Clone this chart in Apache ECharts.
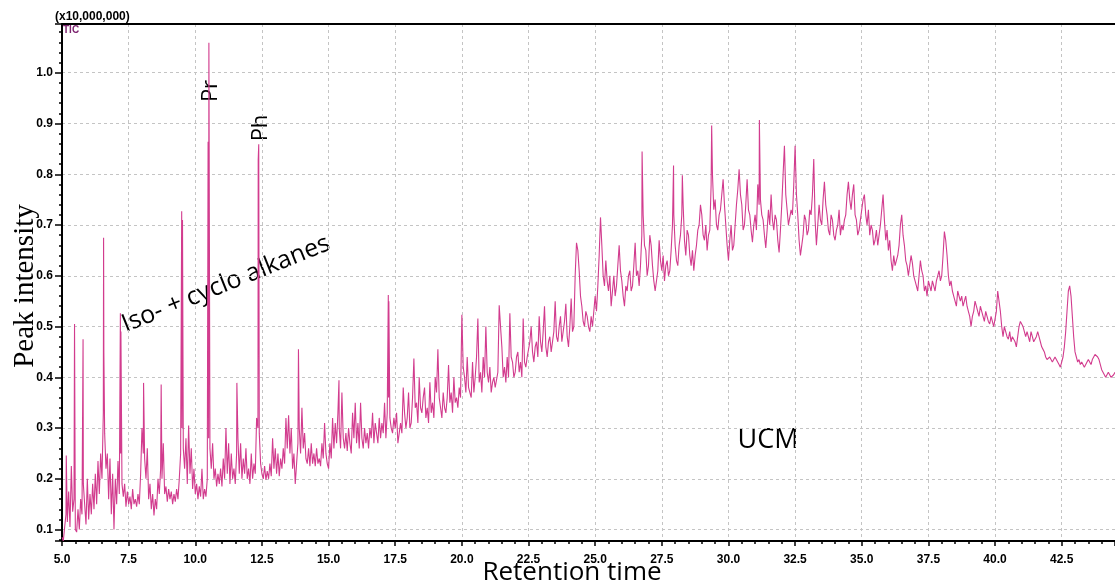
<!DOCTYPE html>
<html>
<head>
<meta charset="utf-8">
<title>TIC chromatogram</title>
<script src="https://cdn.jsdelivr.net/npm/echarts/dist/echarts.min.js"></script>
<style>
  html, body { margin: 0; padding: 0; background: #fff; }
  #chart { width: 1115px; height: 581px; }
</style>
</head>
<body>
<div id="chart"></div>
<script>
// Total ion current (x10,000,000) sampled on a regular retention-time grid.
// 5.00 - 44.50 min every 0.05 min
const tic_5_0 = [
  0.085,0.078,0.105,0.13,0.115,0.175,0.105,0.225,0.135,0.16,
  0.10,0.095,0.14,0.10,0.16,0.13,0.19,0.15,0.11,0.20,
  0.12,0.17,0.13,0.19,0.14,0.21,0.15,0.235,0.17,0.25,
  0.20,0.33,0.29,0.22,0.25,0.16,0.24,0.13,0.21,0.10,
  0.20,0.15,0.235,0.17,0.25,0.19,0.165,0.19,0.145,0.175
];
const tic_7_5 = [
  0.15,0.165,0.14,0.18,0.15,0.16,0.145,0.17,0.15,0.21,
  0.30,0.25,0.24,0.20,0.26,0.16,0.19,0.14,0.17,0.128,
  0.16,0.14,0.20,0.17,0.22,0.20,0.27,0.17,0.185,0.155,
  0.18,0.16,0.175,0.15,0.17,0.155,0.18,0.16,0.20,0.25,
  0.30,0.26,0.22,0.28,0.19,0.305,0.21,0.26,0.18,0.22
];
const tic_10_0 = [
  0.17,0.19,0.16,0.185,0.165,0.22,0.16,0.18,0.165,0.20,
  0.28,0.26,0.22,0.27,0.20,0.22,0.185,0.21,0.19,0.22,
  0.185,0.24,0.20,0.30,0.21,0.27,0.19,0.25,0.20,0.22,
  0.19,0.25,0.28,0.21,0.27,0.20,0.24,0.21,0.26,0.20,
  0.22,0.19,0.25,0.20,0.23,0.21,0.32,0.30,0.29,0.23
];
const tic_12_5 = [
  0.21,0.20,0.225,0.198,0.215,0.20,0.23,0.205,0.28,0.22,
  0.26,0.21,0.25,0.205,0.24,0.22,0.26,0.23,0.32,0.26,
  0.325,0.25,0.30,0.22,0.25,0.19,0.23,0.27,0.30,0.25,
  0.34,0.26,0.29,0.24,0.23,0.26,0.225,0.27,0.23,0.25,
  0.225,0.26,0.23,0.24,0.225,0.27,0.24,0.31,0.25,0.23,
  0.22,0.27,0.24,0.32,0.26,0.31,0.27,0.33,0.30,0.26,
  0.37,0.28,0.26,0.29,0.255,0.30,0.27,0.25,0.33,0.28,
  0.35,0.27,0.31,0.26,0.35,0.28,0.26,0.30,0.27,0.29,
  0.26,0.30,0.28,0.33,0.27,0.31,0.29,0.27,0.32,0.28,
  0.31,0.29,0.35,0.28,0.33,0.36,0.32,0.30,0.29,0.32
];
const tic_17_5 = [
  0.30,0.33,0.27,0.29,0.31,0.29,0.38,0.33,0.30,0.32,
  0.37,0.30,0.31,0.36,0.437,0.34,0.35,0.31,0.40,0.34,
  0.33,0.36,0.38,0.32,0.34,0.31,0.39,0.33,0.35,0.32,
  0.40,0.37,0.455,0.36,0.34,0.32,0.37,0.34,0.33,0.36,
  0.424,0.35,0.37,0.33,0.40,0.35,0.36,0.34,0.38,0.36,
  0.523,0.42,0.40,0.37,0.44,0.38,0.38,0.36,0.43,0.37,
  0.40,0.44,0.516,0.39,0.41,0.37,0.44,0.40,0.50,0.41,
  0.39,0.42,0.37,0.39,0.40,0.38,0.38,0.41,0.542,0.50,
  0.46,0.40,0.42,0.39,0.44,0.40,0.526,0.44,0.43,0.40,
  0.41,0.44,0.45,0.41,0.43,0.40,0.516,0.43,0.42,0.44
];
const tic_22_5 = [
  0.44,0.47,0.50,0.45,0.43,0.46,0.47,0.44,0.52,0.47,
  0.45,0.49,0.54,0.46,0.44,0.47,0.48,0.45,0.45,0.49,
  0.55,0.48,0.47,0.50,0.52,0.47,0.49,0.51,0.545,0.48,
  0.46,0.50,0.555,0.49,0.50,0.60,0.665,0.65,0.61,0.56,
  0.54,0.51,0.50,0.53,0.52,0.50,0.49,0.52,0.50,0.53,
  0.56,0.53,0.58,0.64,0.715,0.66,0.60,0.58,0.63,0.59,
  0.57,0.60,0.54,0.57,0.60,0.56,0.58,0.62,0.66,0.61,
  0.59,0.56,0.54,0.58,0.57,0.60,0.61,0.57,0.58,0.62,
  0.665,0.60,0.61,0.58,0.62,0.68,0.72,0.66,0.65,0.60,
  0.62,0.68,0.66,0.62,0.59,0.57,0.57,0.61,0.67,0.63,
  0.61,0.64,0.59,0.62,0.63,0.60,0.61,0.65,0.70,0.72,
  0.66,0.63,0.62,0.66,0.68,0.72,0.74,0.67,0.64,0.69,
  0.68,0.64,0.62,0.65,0.61,0.64,0.66,0.69,0.70,0.74,
  0.72,0.68,0.67,0.70,0.65,0.68,0.69,0.78,0.80,0.73,
  0.75,0.70,0.69,0.72,0.73,0.76,0.79,0.74,0.70,0.66
];
const tic_30_0 = [
  0.63,0.67,0.70,0.65,0.66,0.70,0.74,0.77,0.81,0.76,
  0.74,0.69,0.70,0.74,0.79,0.73,0.72,0.69,0.666,0.70,
  0.72,0.69,0.78,0.74,0.75,0.72,0.71,0.68,0.655,0.69,
  0.73,0.70,0.76,0.71,0.69,0.72,0.71,0.67,0.646,0.69,
  0.74,0.80,0.856,0.76,0.73,0.70,0.70,0.73,0.72,0.78,
  0.856,0.76,0.72,0.67,0.64,0.66,0.68,0.72,0.71,0.68,
  0.69,0.73,0.72,0.76,0.83,0.71,0.66,0.70,0.74,0.71,
  0.70,0.75,0.785,0.74,0.72,0.69,0.68,0.72,0.71,0.68,
  0.67,0.69,0.70,0.73,0.68,0.70,0.69,0.71,0.72,0.76,
  0.785,0.75,0.73,0.76,0.78,0.72,0.71,0.68,0.69,0.71,
  0.73,0.75,0.76,0.72,0.70,0.73,0.68,0.70,0.69,0.66,
  0.67,0.69,0.66,0.68,0.70,0.73,0.76,0.71,0.67,0.69,
  0.65,0.67,0.63,0.61,0.64,0.62,0.62,0.64,0.66,0.70,
  0.72,0.68,0.66,0.63,0.62,0.60,0.60,0.64,0.625,0.60,
  0.59,0.58,0.57,0.60,0.63,0.61,0.60,0.57,0.58,0.56
];
const tic_37_5 = [
  0.59,0.58,0.57,0.59,0.58,0.57,0.59,0.60,0.61,0.59,
  0.60,0.64,0.687,0.67,0.64,0.60,0.58,0.59,0.57,0.56,
  0.55,0.54,0.57,0.56,0.55,0.56,0.54,0.55,0.56,0.54,
  0.53,0.52,0.50,0.52,0.53,0.55,0.54,0.53,0.52,0.54,
  0.53,0.52,0.51,0.53,0.52,0.51,0.505,0.52,0.51,0.50,
  0.50,0.53,0.57,0.55,0.53,0.50,0.48,0.50,0.49,0.48,
  0.475,0.49,0.47,0.48,0.48,0.47,0.46,0.48,0.50,0.51,
  0.51,0.50,0.50,0.48,0.49,0.48,0.47,0.49,0.48,0.47,
  0.475,0.48,0.49,0.48,0.47,0.46,0.455,0.45,0.44,0.435,
  0.435,0.44,0.44,0.43,0.43,0.44,0.44,0.43,0.425,0.42,
  0.42,0.44,0.46,0.49,0.53,0.57,0.58,0.56,0.52,0.48,
  0.45,0.44,0.43,0.435,0.425,0.43,0.43,0.42,0.42,0.43,
  0.435,0.43,0.425,0.435,0.44,0.445,0.445,0.44,0.435,0.425,
  0.415,0.41,0.41,0.40,0.40,0.41,0.405,0.40,0.40,0.405,
  0.41
];

// Sharp resolved peaks (apex retention time, intensity), incl. pristane and phytane
const resolvedPeaks = [
  [5.16,0.246],[5.47,0.505],[5.79,0.475],[6.56,0.675],[6.57,0.45],
  [7.19,0.526],[7.21,0.49],[8.06,0.389],[8.72,0.386],[9.49,0.727],[9.52,0.71],
  [10.48,0.864],[10.51,1.059],[11.56,0.389],[12.36,0.828],[12.38,0.859],
  [13.87,0.455],[15.39,0.394],[17.24,0.562],[17.26,0.55],
  [26.76,0.845],[27.94,0.817],[28.27,0.798],[29.37,0.896],[31.16,0.907]
];

// Grid segments: first retention time of each array (min), spacing 0.05 min
const segmentStarts = [5.0, 7.5, 10.0, 12.5, 17.5, 22.5, 30.0, 37.5];
const segmentValues = [tic_5_0, tic_7_5, tic_10_0, tic_12_5, tic_17_5, tic_22_5, tic_30_0, tic_37_5];
const gridStep = 0.05;

const trace = [];
segmentValues.forEach((vals, s) => vals.forEach((v, i) =>
  trace.push([+(segmentStarts[s] + i * gridStep).toFixed(3), v])));
resolvedPeaks.forEach(p => trace.push(p));
trace.sort((a, b) => a[0] - b[0]);

const labelFont = '"Liberation Sans", Arial, sans-serif';
const noteFont = '"Open Sans", "Noto Sans", sans-serif';

const chart = echarts.init(document.getElementById('chart'), null, { renderer: 'canvas' });
chart.setOption({
  animation: false,
  backgroundColor: '#fff',
  grid: { left: 62, right: 0, top: 24, bottom: 40 },
  xAxis: [{
    type: 'value', min: 5, max: 44.5, interval: 2.5,
    axisLine: { onZero: false, lineStyle: { color: '#000', width: 2 } },
    axisTick: { length: 5, lineStyle: { color: '#000', width: 1.5 } },
    minorTick: { show: true, splitNumber: 5, length: 3, lineStyle: { color: '#000', width: 1.5 } },
    axisLabel: { color: '#000', fontFamily: labelFont, fontWeight: 'bold', fontSize: 12, margin: 13,
                 showMaxLabel: false, formatter: v => v.toFixed(1) },
    splitLine: { show: true, lineStyle: { color: '#c4c4c4', width: 1, type: [3, 3] } }
  }, {
    type: 'value', position: 'top', min: 5, max: 44.5,
    axisLine: { show: true, lineStyle: { color: '#000', width: 2 } },
    axisTick: { show: false }, axisLabel: { show: false }, splitLine: { show: false }
  }],
  yAxis: {
    type: 'value', min: 0.0775, max: 1.096, splitNumber: 10,
    axisLine: { show: true, onZero: false, lineStyle: { color: '#000', width: 2 } },
    axisTick: { show: true, length: 7, lineStyle: { color: '#000', width: 1.5 } },
    minorTick: { show: true, splitNumber: 5, length: 3, lineStyle: { color: '#000', width: 1.5 } },
    axisLabel: { color: '#000', fontFamily: labelFont, fontWeight: 'bold', fontSize: 12, margin: 9,
                 showMinLabel: false, showMaxLabel: false, formatter: v => v.toFixed(1) },
    splitLine: { show: true, lineStyle: { color: '#c4c4c4', width: 1, type: [3, 3] } }
  },
  series: [{
    type: 'line', data: trace, showSymbol: false, symbol: 'none', sampling: null,
    lineStyle: { color: '#d23c8e', width: 1.1 }, clip: true
  }],
  graphic: [
    { type: 'text', left: 55, top: 11,
      style: { text: '(x10,000,000)', font: 'bold 12px ' + labelFont, fill: '#000' } },
    { type: 'text', left: 63, top: 25,
      style: { text: 'TIC', font: 'bold 10px ' + labelFont, fill: '#7d2470' } },
    { type: 'text', x: 211, y: 91, rotation: Math.PI / 2,
      style: { text: 'Pr', font: '22px ' + noteFont, fill: '#000', align: 'center', verticalAlign: 'middle' } },
    { type: 'text', x: 261, y: 128, rotation: Math.PI / 2,
      style: { text: 'Ph', font: '22px ' + noteFont, fill: '#000', align: 'center', verticalAlign: 'middle' } },
    { type: 'text', x: 226, y: 284, rotation: 22 * Math.PI / 180,
      style: { text: 'Iso- + cyclo alkanes', font: '25px ' + noteFont, fill: '#000', align: 'center', verticalAlign: 'middle' } },
    { type: 'text', x: 768, y: 440,
      style: { text: 'UCM', font: '27px ' + noteFont, fill: '#000', align: 'center', verticalAlign: 'middle' } },
    { type: 'text', x: 25, y: 286, rotation: Math.PI / 2,
      style: { text: 'Peak intensity', font: '29px "Liberation Serif", "Times New Roman", serif', fill: '#000', align: 'center', verticalAlign: 'middle' } },
    { type: 'text', x: 572, y: 573,
      style: { text: 'Retention time', font: '26px ' + noteFont, fill: '#000', align: 'center', verticalAlign: 'middle' } }
  ]
});
</script>
</body>
</html>
